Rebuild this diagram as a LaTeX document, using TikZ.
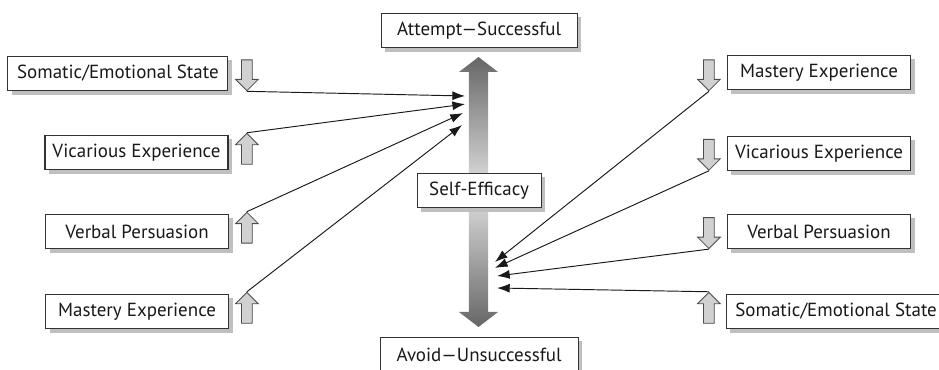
\documentclass[tikz,border=0pt]{standalone}
\usepackage{fontspec}
\setmainfont{PT Sans}
\usetikzlibrary{arrows.meta,positioning,shapes.arrows,shadows}

\tikzset{
  factor/.style={draw=black!80, line width=1pt, fill=white, minimum height=1.15cm,
    inner sep=0pt, font=\fontsize{18}{21}\selectfont, text=black!90,
    drop shadow={shadow xshift=0.13cm, shadow yshift=-0.13cm, fill=black!25, opacity=1}},
  cue/.style={single arrow, draw=black!70, fill=black!18, line width=0.8pt,
    minimum height=1.03cm, single arrow head extend=0.2cm,
    single arrow tip angle=90, inner xsep=0pt, inner ysep=0.165cm},
  link/.style={-{Latex[length=4.2mm,width=3mm]}, line width=0.9pt, black!90},
}

\begin{document}
\begin{tikzpicture}
        \useasboundingbox (0,0) rectangle (31.3,12.3);

        % Central double arrow
        \shade[top color=black!60, bottom color=black!12]
          (15.63,5.95) -- (15.63,9.9) -- (15.3,9.9) -- (15.95,10.4) -- (16.6,9.9)
          -- (16.27,9.9) -- (16.27,5.95) -- cycle;
        \shade[top color=black!12, bottom color=black!60]
          (15.63,5.95) -- (15.63,1.9) -- (15.3,1.9) -- (15.95,1.4) -- (16.6,1.9)
          -- (16.27,1.9) -- (16.27,5.95) -- cycle;

        % Centre boxes
        \node[factor,minimum width=6.53cm] (attempt) at (15.97,11.28) {Attempt---Successful};
        \node[factor,minimum width=4.13cm] (efficacy) at (15.97,5.95) {Self-Efficacy};
        \node[factor,minimum width=6.6cm] (avoid) at (15.97,0.48) {Avoid---Unsuccessful};

        % Left side boxes
        \node[factor,minimum width=7.33cm] (lsomatic) at (3.93,9.85) {Somatic/Emotional State};
        \node[factor,minimum width=6.1cm] (lvicar) at (4.55,7.22) {Vicarious Experience};
        \node[factor,minimum width=6.1cm] (lverbal) at (4.57,4.58) {Verbal Persuasion};
        \node[factor,minimum width=6.1cm] (lmastery) at (4.57,1.92) {Mastery Experience};

        % Right side boxes
        \node[factor,minimum width=6.13cm] (rmastery) at (27.3,9.88) {Mastery Experience};
        \node[factor,minimum width=6.13cm] (rvicar) at (27.3,7.18) {Vicarious Experience};
        \node[factor,minimum width=6.13cm] (rverbal) at (27.3,4.58) {Verbal Persuasion};
        \node[factor,minimum width=7.33cm] (rsomatic) at (27.87,1.92) {Somatic/Emotional State};

        % Small up/down arrows
        \node[cue,rotate=-90] (lsomaticarr) at (8.23,9.88) {};
        \node[cue,rotate=90] (lvicararr) at (8.23,7.25) {};
        \node[cue,rotate=90] (lverbalarr) at (8.23,4.62) {};
        \node[cue,rotate=90] (lmasteryarr) at (8.23,1.95) {};
        \node[cue,rotate=-90] (rmasteryarr) at (23.63,9.88) {};
        \node[cue,rotate=-90] (rvicararr) at (23.63,7.23) {};
        \node[cue,rotate=-90] (rverbalarr) at (23.63,4.62) {};
        \node[cue,rotate=90] (rsomaticarr) at (23.63,1.95) {};

        % Arrow ends at the central arrow
        \coordinate (lin1) at (15.5,9.1);
        \coordinate (lin2) at (15.5,8.83);
        \coordinate (lin3) at (15.43,8.53);
        \coordinate (lin4) at (15.4,8.13);
        \coordinate (rin1) at (16.5,3.57);
        \coordinate (rin2) at (16.5,3.37);
        \coordinate (rin3) at (16.57,3.1);
        \coordinate (rin4) at (16.57,2.7);

        % Connectors
        \draw[link] (lsomaticarr.tip) -- (lin1);
        \draw[link] (lvicararr.tip) -- (lin2);
        \draw[link] (lverbalarr.tip) -- (lin3);
        \draw[link] (lmasteryarr.tip) -- (lin4);
        \draw[link] (rmasteryarr.tip) -- (rin1);
        \draw[link] (rvicararr.tip) -- (rin2);
        \draw[link] (rverbalarr.tip) -- (rin3);
        \draw[link] (rsomaticarr.tip) -- (rin4);
\end{tikzpicture}
\end{document}
